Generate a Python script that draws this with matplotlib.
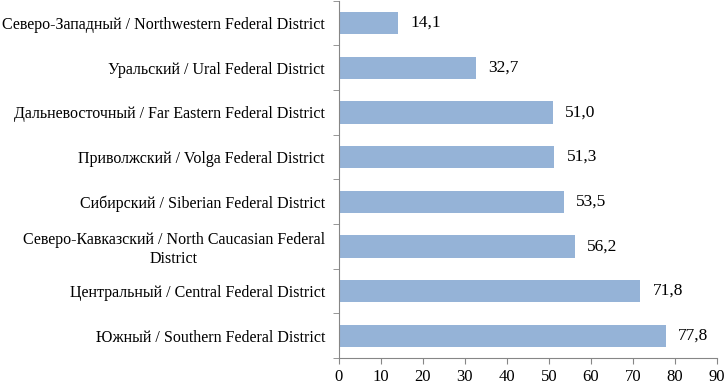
import matplotlib.pyplot as plt
import numpy as np

plt.rcParams['font.family'] = ['Liberation Serif', 'DejaVu Serif']

districts = [
    "Южный / Southern Federal District",
    "Центральный / Central Federal District",
    "Северо-Кавказский / North Caucasian Federal\nDistrict",
    "Сибирский / Siberian Federal District",
    "Приволжский / Volga Federal District",
    "Дальневосточный / Far Eastern Federal District",
    "Уральский / Ural Federal District",
    "Северо-Западный / Northwestern Federal District",
]
values = [77.8, 71.8, 56.2, 53.5, 51.3, 51.0, 32.7, 14.1]
xticks = [0, 10, 20, 30, 40, 50, 60, 70, 80, 90]

fig = plt.figure(figsize=(7.27, 3.83), dpi=100)
ax = fig.add_axes([0.466, 0.065, 0.520, 0.933])

y = np.arange(len(districts))
ax.barh(y, values, height=0.5, color='#95B3D7')
for yi, v in zip(y, values):
    ax.text(v + 2.9, yi, f"{v:.1f}".replace('.', ','), va='center', ha='left', fontsize=12.5)

ax.set_xlim(0, 90)
ax.set_ylim(-0.5, len(districts) - 0.5)
ax.set_xticks(xticks)
ax.set_xticklabels([str(t) for t in xticks], fontsize=12)
ax.set_yticks(y)
ax.set_yticklabels(districts, fontsize=11.5, ha='right', multialignment='center')
ax.tick_params(axis='y', length=0, pad=10)
ax.set_yticks(np.arange(-0.5, len(districts), 1), minor=True)
ax.tick_params(axis='y', which='minor', length=4, color='#868686')
ax.tick_params(axis='x', length=4, color='#868686')
for s in ['top', 'right']:
    ax.spines[s].set_visible(False)
for s in ['left', 'bottom']:
    ax.spines[s].set_color('#868686')

fig.savefig('out.png', dpi=100)
